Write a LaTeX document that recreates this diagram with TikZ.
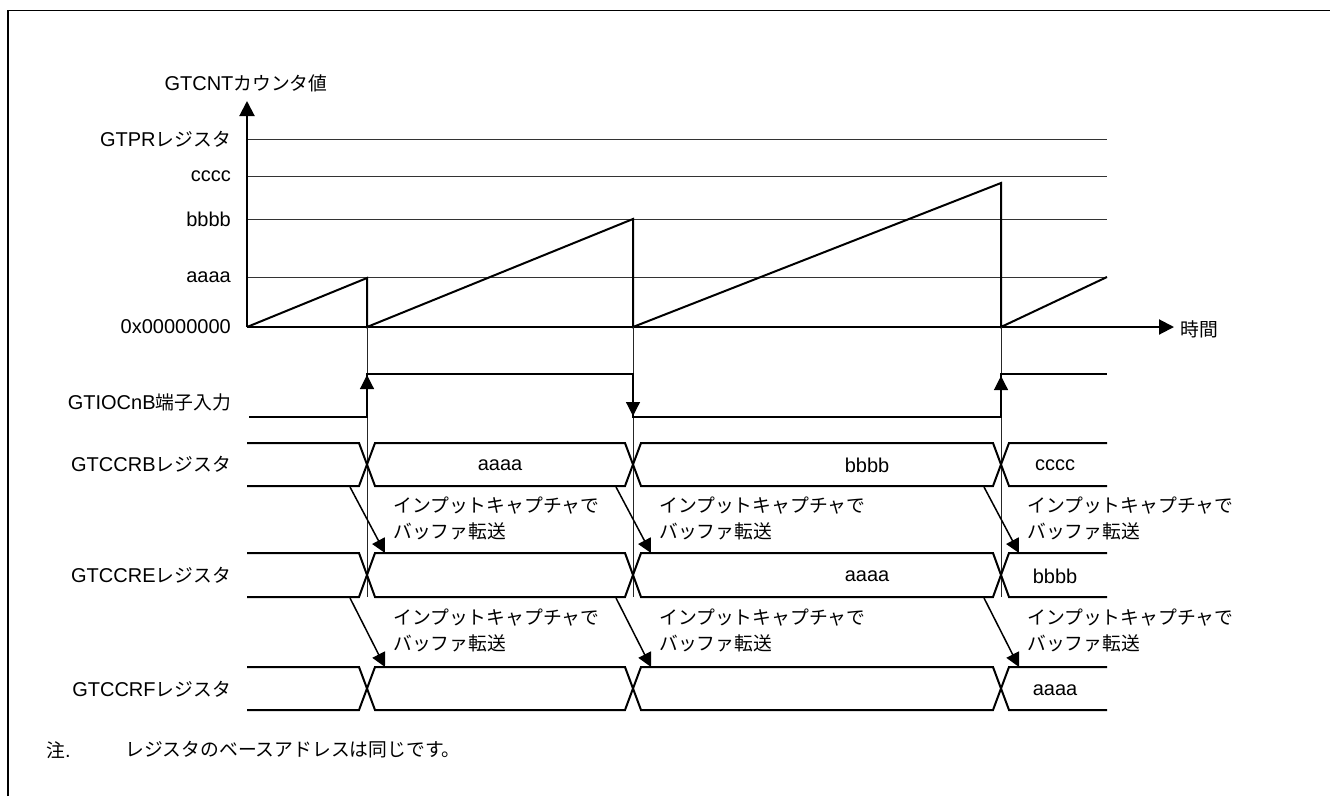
\documentclass[tikz,border=0pt]{standalone}
\usepackage{fontspec}
\setmainfont{Liberation Sans}
\newfontfamily\jp[Scale=0.94]{Noto Sans CJK JP}
\usetikzlibrary{arrows.meta}
\newcommand\J[1]{{\jp #1}}
\begin{document}
\begin{tikzpicture}[x=1pt,y=-1pt,
  lbl/.style={inner sep=0pt,font=\fontsize{20}{26}\selectfont},
  axisline/.style={line width=2pt},
  refline/.style={line width=1pt,black!80},
  guide/.style={line width=1pt,black!85},
  wave/.style={line width=2pt,line join=miter},
  bus/.style={line width=2pt,line join=miter},
  bigtip/.style={-{Triangle[length=15pt,width=15pt]}},
  edgetip/.style={-{Triangle[length=14pt,width=14pt]}},
  frameline/.style={line width=1.5pt}
]
\useasboundingbox (0,0) rectangle (1330,796);
% frame
\draw[frameline] (8,796) -- (8,10.5) -- (1330,10.5);

% axes
\coordinate (O) at (247,327);
\coordinate (ytip) at (247,101);
\coordinate (xtip) at (1174,327);
% reference lines
\foreach \yy in {139,176,219,277}{
  \draw[refline] (247,\yy) -- (1107,\yy);
}
\draw[axisline,bigtip] (O) -- (ytip);
\draw[axisline,bigtip] (O) -- (xtip);

% sawtooth
\draw[wave] (247,327) -- (367,278) -- (367,327) -- (633,219) -- (633,327) -- (1001,183) -- (1001,327) -- (1107,277);

% guide lines
\foreach \xx in {367,633,1001}{
  \draw[guide] (\xx,327) -- (\xx,597);
}

% axis labels
\node[lbl] (ylab) at (246,83) {GTCNT\J{カウンタ値}};
\node[lbl,anchor=west] (xlab) at (1180,329) {\J{時間}};
\node[lbl,anchor=east] (lgtpr) at (231,139) {GTPR\J{レジスタ}};
\node[lbl,anchor=east] (lc) at (231,176) {cccc};
\node[lbl,anchor=east] (lb) at (231,219) {bbbb};
\node[lbl,anchor=east] (la) at (231,277) {aaaa};
\node[lbl,anchor=east] (lz) at (231,327) {0x00000000};

% GTIOCnB input
\node[lbl,anchor=east] (lin) at (231,402) {GTIOCnB\J{端子入力}};
\draw[wave] (249,417) -- (367,417) -- (367,374) -- (633,374) -- (633,417) -- (1001,417) -- (1001,374) -- (1107,374);
\coordinate (e1a) at (367,400);
\coordinate (e1b) at (367,375);
\coordinate (e2a) at (633,390);
\coordinate (e2b) at (633,416);
\coordinate (e3a) at (1001,400);
\coordinate (e3b) at (1001,376);
\draw[line width=1.2pt,edgetip] (e1a) -- (e1b);
\draw[line width=1.2pt,edgetip] (e2a) -- (e2b);
\draw[line width=1.2pt,edgetip] (e3a) -- (e3b);

% buses
\foreach \yt/\yb in {443/486, 553/597, 667/710}{
  \draw[bus] (247,\yt) -- (359,\yt) -- (375,\yb) -- (625,\yb) -- (641,\yt) -- (993,\yt) -- (1009,\yb) -- (1107,\yb);
  \draw[bus] (247,\yb) -- (359,\yb) -- (375,\yt) -- (625,\yt) -- (641,\yb) -- (993,\yb) -- (1009,\yt) -- (1107,\yt);
}
\node[lbl,anchor=east] (lrb) at (231,464) {GTCCRB\J{レジスタ}};
\node[lbl,anchor=east] (lre) at (231,575) {GTCCRE\J{レジスタ}};
\node[lbl,anchor=east] (lrf) at (231,689) {GTCCRF\J{レジスタ}};

\node[lbl] (b1) at (500,465) {aaaa};
\node[lbl] (b2) at (867,465) {bbbb};
\node[lbl] (b3) at (1055,465) {cccc};
\node[lbl] (e2) at (867,576) {aaaa};
\node[lbl] (e3) at (1055,576) {bbbb};
\node[lbl] (f3) at (1055,690) {aaaa};

% transfer arrows and texts
\foreach \xx/\nm in {367/a,633/b,1001/c}{
  \coordinate (s1\nm) at ({\xx-17},487);
  \coordinate (t1\nm) at ({\xx+18},553);
  \coordinate (s2\nm) at ({\xx-17},598);
  \coordinate (t2\nm) at ({\xx+18},667);
  \draw[line width=1.5pt,edgetip] (s1\nm) -- (t1\nm);
  \draw[line width=1.5pt,edgetip] (s2\nm) -- (t2\nm);
  \node[lbl,anchor=north west,align=left] (x1\nm) at ({\xx+26},497) {\J{インプットキャプチャで}\\\J{バッファ転送}};
  \node[lbl,anchor=north west,align=left] (x2\nm) at ({\xx+26},609) {\J{インプットキャプチャで}\\\J{バッファ転送}};
}

% note
\node[lbl,anchor=west] (n1) at (46,750) {\J{注}.};
\node[lbl,anchor=west] (n2) at (125,750) {\J{レジスタのベースアドレスは同じです。}};
\end{tikzpicture}
\end{document}
